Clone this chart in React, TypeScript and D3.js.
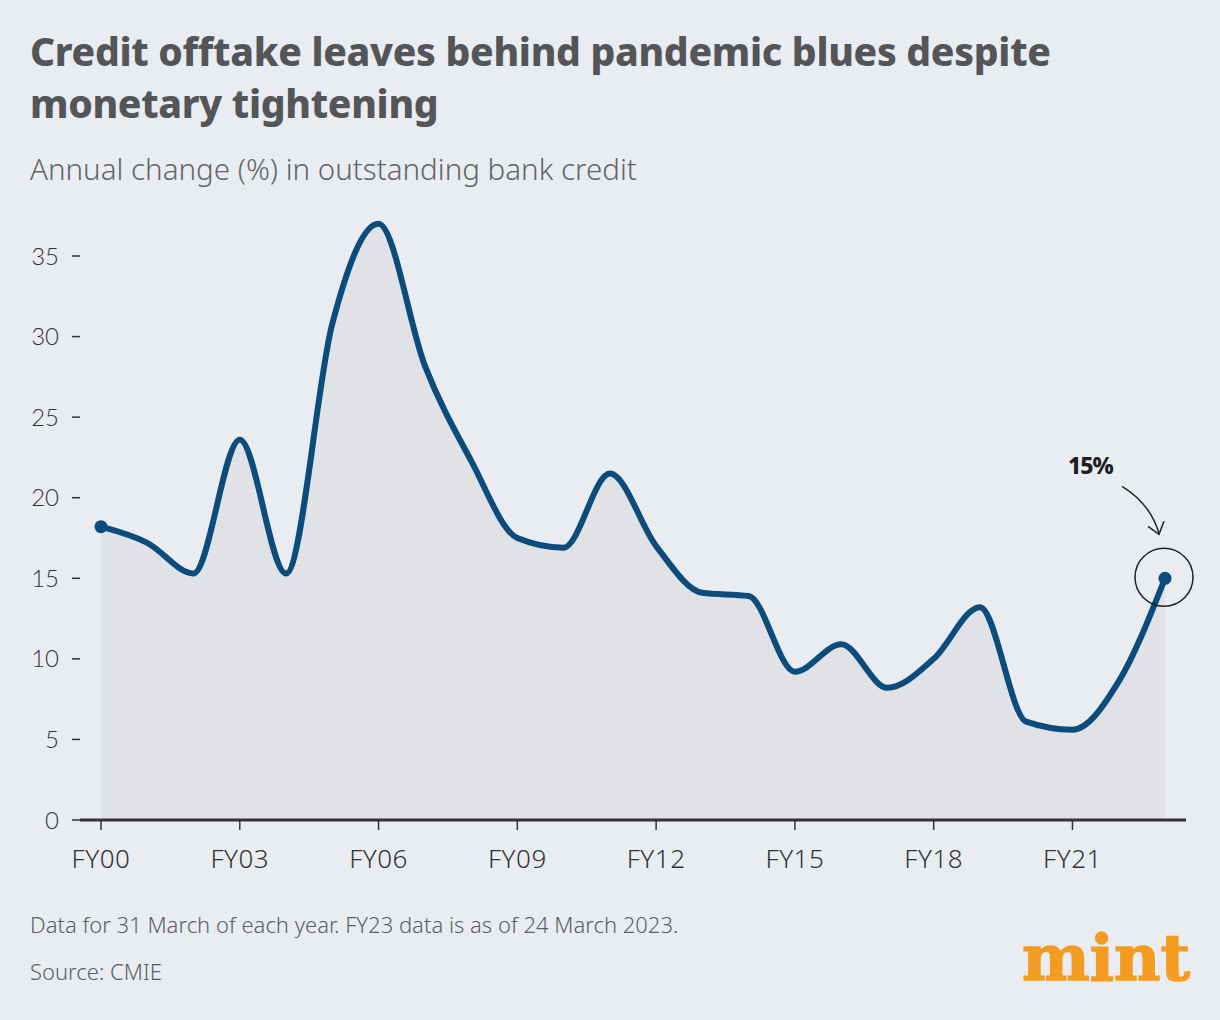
import { useEffect, useRef } from "react";
import * as d3 from "d3";

const years = [
  "FY00", "FY01", "FY02", "FY03", "FY04", "FY05", "FY06", "FY07", "FY08", "FY09",
  "FY10", "FY11", "FY12", "FY13", "FY14", "FY15", "FY16", "FY17", "FY18", "FY19",
  "FY20", "FY21", "FY22", "FY23",
];
const growth = [
  18.2, 17.2, 15.3, 23.6, 15.3, 30.8, 37.0, 28.2, 22.3, 17.5,
  16.9, 21.5, 17.0, 14.1, 13.9, 9.2, 10.9, 8.2, 10.0, 13.2,
  6.1, 5.6, 8.6, 15.0,
];
const yTicks = [0, 5, 10, 15, 20, 25, 30, 35];
const xTickLabels = ["FY00", "FY03", "FY06", "FY09", "FY12", "FY15", "FY18", "FY21"];

const W = 1220;
const H = 1020;

const App = () => {
  const svgRef = useRef<SVGSVGElement>(null);

  useEffect(() => {
    const svg = d3.select(svgRef.current);
    svg.selectAll("*").remove();

    const data = years.map((y, i) => ({ year: y, value: growth[i] }));

    const x = d3.scalePoint<string>().domain(years).range([101, 1165]);
    const y = d3.scaleLinear().domain([0, 35]).range([820, 256]);

    svg.append("rect").attr("width", W).attr("height", H).attr("fill", "#e9ecf0");

    // titles
    const title = svg
      .append("text")
      .attr("font-family", "'Noto Sans', sans-serif")
      .attr("font-weight", 800)
      .attr("font-size", 39)
      .attr("fill", "#545558")
      .attr("letter-spacing", -0.3);
    title.append("tspan").attr("x", 30).attr("y", 66).text("Credit offtake leaves behind pandemic blues despite");
    title.append("tspan").attr("x", 30).attr("y", 118).text("monetary tightening");

    svg
      .append("text")
      .attr("x", 30)
      .attr("y", 180)
      .attr("font-family", "'Noto Sans', sans-serif")
      .attr("font-weight", 300)
      .attr("font-size", 29.5)
      .attr("fill", "#636468")
      .text("Annual change (%) in outstanding bank credit");

    // area + line
    const area = d3
      .area<{ year: string; value: number }>()
      .x((d) => x(d.year)!)
      .y0(y(0))
      .y1((d) => y(d.value))
      .curve(d3.curveMonotoneX);

    svg.append("path").datum(data).attr("fill", "#e0e2e6").attr("d", area);

    // y axis
    const yAxis = svg.append("g").attr("transform", "translate(80,0)");
    yAxis
      .selectAll("line")
      .data(yTicks)
      .join("line")
      .attr("x1", -8)
      .attr("x2", 0)
      .attr("y1", (d) => y(d))
      .attr("y2", (d) => y(d))
      .attr("stroke", "#333")
      .attr("stroke-width", 1.5);
    yAxis
      .selectAll("text")
      .data(yTicks)
      .join("text")
      .attr("x", -21)
      .attr("y", (d) => y(d))
      .attr("dy", "0.36em")
      .attr("text-anchor", "end")
      .attr("font-family", "Lato, sans-serif")
      .attr("font-weight", 300)
      .attr("font-size", 24)
      .attr("fill", "#333")
      .text((d) => d);

    // x axis
    svg
      .append("line")
      .attr("x1", 80)
      .attr("x2", 1186)
      .attr("y1", y(0))
      .attr("y2", y(0))
      .attr("stroke", "#333")
      .attr("stroke-width", 3);
    const xAxis = svg.append("g");
    xAxis
      .selectAll("line")
      .data(xTickLabels)
      .join("line")
      .attr("x1", (d) => x(d)!)
      .attr("x2", (d) => x(d)!)
      .attr("y1", y(0))
      .attr("y2", y(0) + 10)
      .attr("stroke", "#333")
      .attr("stroke-width", 1.5);
    xAxis
      .selectAll("text")
      .data(xTickLabels)
      .join("text")
      .attr("x", (d) => x(d)!)
      .attr("y", 868)
      .attr("text-anchor", "middle")
      .attr("font-family", "'Noto Sans', sans-serif")
      .attr("font-weight", 300)
      .attr("font-size", 26)
      .attr("letter-spacing", 0.5)
      .attr("fill", "#333")
      .text((d) => d);

    const line = d3
      .line<{ year: string; value: number }>()
      .x((d) => x(d.year)!)
      .y((d) => y(d.value))
      .curve(d3.curveMonotoneX);

    svg
      .append("path")
      .datum(data)
      .attr("fill", "none")
      .attr("stroke", "#0c4c7d")
      .attr("stroke-width", 6)
      .attr("stroke-linejoin", "round")
      .attr("d", line);

    const first = data[0];
    const last = data[data.length - 1];
    [first, last].forEach((d) => {
      svg
        .append("circle")
        .attr("cx", x(d.year)!)
        .attr("cy", y(d.value))
        .attr("r", 6.5)
        .attr("fill", "#0c4c7d");
    });

    // annotation
    const lx = x(last.year)!;
    const ly = y(last.value);
    svg
      .append("circle")
      .attr("cx", lx - 1)
      .attr("cy", ly - 1)
      .attr("r", 29)
      .attr("fill", "none")
      .attr("stroke", "#222")
      .attr("stroke-width", 1.5);
    svg
      .append("path")
      .attr("d", `M${lx - 43},${ly - 92} Q${lx - 15},${ly - 75} ${lx - 6},${ly - 45}`)
      .attr("fill", "none")
      .attr("stroke", "#222")
      .attr("stroke-width", 1.5);
    svg
      .append("path")
      .attr("d", `M${lx - 17},${ly - 52} L${lx - 6},${ly - 44} L${lx - 1},${ly - 57}`)
      .attr("fill", "none")
      .attr("stroke", "#222")
      .attr("stroke-width", 1.5);
    svg
      .append("text")
      .attr("x", lx - 97)
      .attr("y", ly - 104)
      .attr("font-family", "'Noto Sans', sans-serif")
      .attr("font-weight", 800)
      .attr("font-size", 23)
      .attr("letter-spacing", -1)
      .attr("fill", "#1e1e1e")
      .text(`${last.value}%`);

    // notes
    svg
      .append("text")
      .attr("x", 30)
      .attr("y", 933)
      .attr("font-family", "'Noto Sans', sans-serif")
      .attr("font-weight", 300)
      .attr("font-size", 22)
      .attr("fill", "#5e5f63")
      .text("Data for 31 March of each year. FY23 data is as of 24 March 2023.");
    svg
      .append("text")
      .attr("x", 30)
      .attr("y", 980)
      .attr("font-family", "'Noto Sans', sans-serif")
      .attr("font-weight", 300)
      .attr("font-size", 22)
      .attr("fill", "#5e5f63")
      .text("Source: CMIE");

    svg
      .append("text")
      .attr("x", 1022)
      .attr("y", 980)
      .attr("font-family", "'DejaVu Serif', serif")
      .attr("font-weight", 900)
      .attr("font-size", 64)
      .attr("textLength", 168)
      .attr("lengthAdjust", "spacingAndGlyphs")
      .attr("fill", "#f39c21")
      .attr("stroke", "#f39c21")
      .attr("stroke-width", 1.5)
      .text("mint");
  }, []);

  return (
    <svg
      ref={svgRef}
      width={W}
      height={H}
      style={{ display: "block", position: "absolute", left: 0, top: 0 }}
    />
  );
};

export default App;
